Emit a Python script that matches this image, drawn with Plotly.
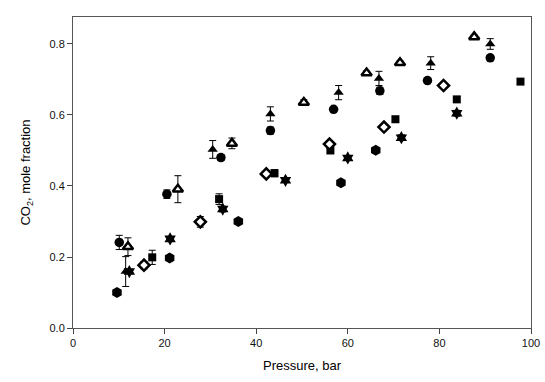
import plotly.graph_objects as go

# Pressure (bar) and CO2 mole fraction for each data set
circ_p = [10.1, 20.5, 32.3, 43.1, 56.9, 67.0, 77.4, 91.1]
circ_y = [0.241, 0.377, 0.480, 0.556, 0.616, 0.668, 0.697, 0.761]
circ_e = [0.020, 0.012, 0.008, 0.010, 0.006, 0.010, 0.006, 0.006]

tri_p = [11.5, 30.5, 43.1, 58.0, 66.8, 78.1, 91.1]
tri_y = [0.159, 0.503, 0.603, 0.663, 0.703, 0.746, 0.800]
tri_e = [0.042, 0.025, 0.020, 0.020, 0.020, 0.018, 0.015]

otri_p = [12.0, 22.9, 34.7, 50.4, 64.1, 71.4, 87.6]
otri_y = [0.229, 0.391, 0.520, 0.635, 0.718, 0.747, 0.820]
otri_e = [0.025, 0.038, 0.015, 0.008, 0.006, 0.005, 0.005]

dia_p = [15.5, 27.8, 42.2, 56.0, 67.9, 80.9]
dia_y = [0.177, 0.299, 0.434, 0.518, 0.566, 0.683]
dia_e = [0.010, 0.015, 0.008, 0.008, 0.006, 0.006]

sq_p = [17.3, 31.9, 44.0, 56.2, 70.4, 83.8, 97.7]
sq_y = [0.199, 0.363, 0.436, 0.500, 0.588, 0.644, 0.694]
sq_e = [0.020, 0.015, 0.010, 0.008, 0.008, 0.008, 0.006]

star_p = [12.3, 21.2, 32.7, 46.4, 60.0, 71.7, 83.8]
star_y = [0.159, 0.251, 0.335, 0.416, 0.479, 0.536, 0.605]
star_e = [0.006, 0.006, 0.008, 0.006, 0.006, 0.008, 0.008]

hex_p = [9.6, 21.1, 36.1, 58.5, 66.1]
hex_y = [0.100, 0.197, 0.300, 0.409, 0.501]

x_ticks = [0, 20, 40, 60, 80, 100]
y_ticks = [0.0, 0.2, 0.4, 0.6, 0.8]

fig = go.Figure()


def add(p, y, e, symbol, size, open_=False):
    marker = dict(symbol=symbol, size=size, color="black")
    if open_:
        marker = dict(symbol=symbol, size=size, color="white",
                      line=dict(color="black", width=2.5))
    err = None
    if e is not None:
        err = dict(type="data", array=e, visible=True, color="black",
                   thickness=1, width=3.5)
    fig.add_trace(go.Scatter(x=p, y=y, mode="markers", marker=marker,
                             error_y=err, showlegend=False))


add(hex_p, hex_y, None, "hexagon", 11)
add(sq_p, sq_y, sq_e, "square", 8)
add(star_p, star_y, star_e, "hexagram", 10)
add(dia_p, dia_y, dia_e, "diamond", 8.5, open_=True)
add(circ_p, circ_y, circ_e, "circle", 9.5)
add(tri_p, tri_y, tri_e, "triangle-up", 9)
add(otri_p, otri_y, otri_e, "triangle-up", 9, open_=True)

axis_font = dict(family="Liberation Sans, Arial, sans-serif", size=11, color="#111")
fig.update_layout(
    width=545, height=382,
    margin=dict(l=73, r=14, t=17, b=54),
    paper_bgcolor="white", plot_bgcolor="white",
    font=axis_font,
    xaxis=dict(range=[0, 100], tickvals=x_ticks, ticks="outside", ticklen=5,
               tickcolor="#444", showline=True, linecolor="#555", linewidth=1,
               mirror=True, showgrid=False, zeroline=False, automargin=False,
               title=dict(text="Pressure, bar",
                          font=dict(size=13, color="#000"), standoff=12)),
    yaxis=dict(range=[0, 0.876], tickvals=y_ticks, tickformat=".1f",
               ticks="outside", ticklen=5, tickcolor="#444", showline=True,
               linecolor="#555", linewidth=1, mirror=True, showgrid=False,
               zeroline=False, automargin=False,
               title=dict(text="CO<sub>2</sub>, mole fraction",
                          font=dict(size=13, color="#000"), standoff=15)),
)

fig.write_html("out.html")
